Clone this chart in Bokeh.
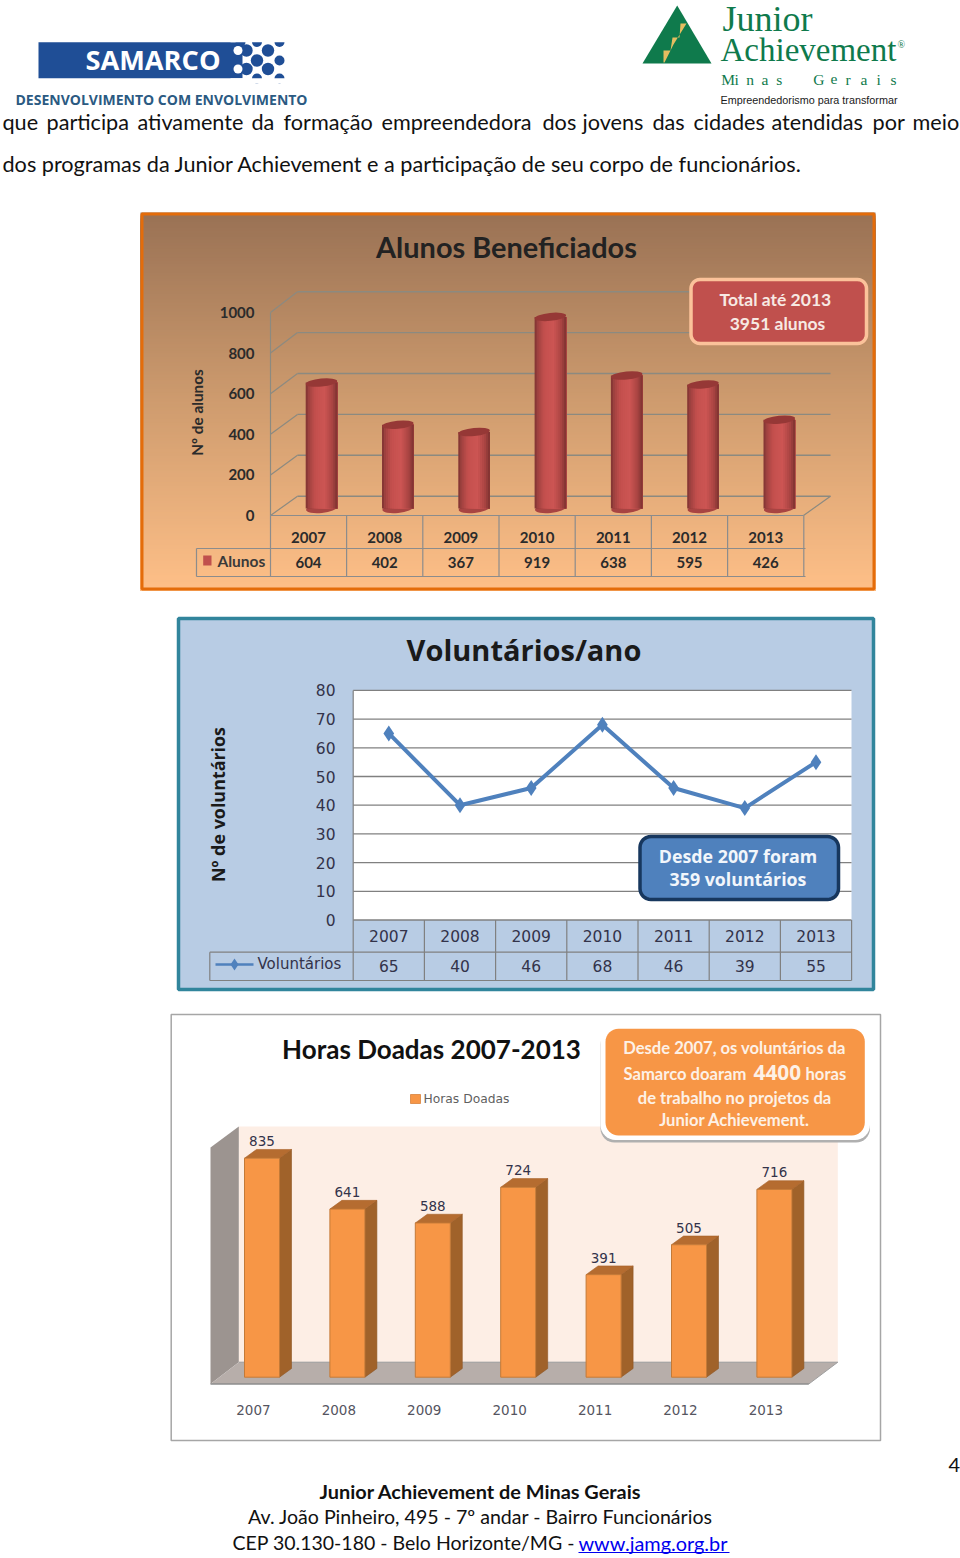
import math
from bokeh.plotting import figure
from bokeh.models import Range1d
from bokeh.core.properties import value
from bokeh.embed import file_html
from bokeh.resources import INLINE

# ---- data ----
years = ["2007", "2008", "2009", "2010", "2011", "2012", "2013"]
alunos = [604, 402, 367, 919, 638, 595, 426]
alunos_ticks = [0, 200, 400, 600, 800, 1000]
voluntarios = [65, 40, 46, 68, 46, 39, 55]
voluntarios_ticks = [0, 10, 20, 30, 40, 50, 60, 70, 80]
horas = [835, 641, 588, 724, 391, 505, 716]

line1_words = ["que", "participa", "ativamente", "da", "formação", "empreendedora", "dos",
               "jovens", "das", "cidades", "atendidas", "por", "meio"]
line1_x = [2, 46, 137, 251, 283, 381, 542, 582, 652, 693, 771, 872, 912]
line2 = "dos programas da Junior Achievement e a participação de seu corpo de funcionários."
minas_letters = ["M", "i", "n", "a", "s", "G", "e", "r", "a", "i", "s"]
minas_x = [720.7, 734, 745.7, 761, 775.7, 812.7, 830, 845, 860, 876, 890]

W, H = 960, 1558
BODY = "Lato"

p = figure(width=W, height=H, output_backend="svg", toolbar_location=None,
           x_range=Range1d(0, W), y_range=Range1d(H, 0),
           x_axis_location=None, y_axis_location=None, min_border=0,
           outline_line_color=None, background_fill_color="white", border_fill_color="white")
p.grid.visible = False


def yrange(name, y0, s):
    """value v sits at page pixel y0 - s*v"""
    p.extra_y_ranges[name] = Range1d((y0 - H) / s, y0 / s)


def xrange_(name, x0, dx):
    """index i sits at page pixel x0 + dx*i"""
    p.extra_x_ranges[name] = Range1d(-x0 / dx, (W - x0) / dx)


def T(x, y, s, size, color="#222222", font=BODY, bold=False, align="left", angle=0,
      baseline="middle", xr="default", yr="default", y_offset=0):
    xs = x if isinstance(x, list) else [x]
    ys = y if isinstance(y, list) else [y] * len(xs)
    if yr == "default":
        ys = [v - 1 for v in ys]
    ss = s if isinstance(s, list) else [s] * len(xs)
    p.text(x=xs, y=ys, text=ss, text_font=value(font), text_font_size=f"{size}px",
           text_font_style="bold" if bold else "normal", text_color=color, text_align=align,
           text_baseline=baseline, angle=angle, x_range_name=xr, y_range_name=yr, y_offset=y_offset)


def rrect(x0, y0, x1, y1, r, fill, line=None, lw=0):
    xs, ys = [], []
    for cx, cy, a0 in [(x1 - r, y0 + r, -90), (x1 - r, y1 - r, 0), (x0 + r, y1 - r, 90), (x0 + r, y0 + r, 180)]:
        for k in range(9):
            a = math.radians(a0 + k * 90 / 8)
            xs.append(cx + r * math.cos(a))
            ys.append(cy + r * math.sin(a))
    p.patch(xs, ys, fill_color=fill, line_color=line, line_width=lw)


def lerp_color(stops, f):
    for (f0, c0), (f1, c1) in zip(stops, stops[1:]):
        if f <= f1:
            t = (f - f0) / (f1 - f0)
            rgb = [int(int(c0[i:i + 2], 16) * (1 - t) + int(c1[i:i + 2], 16) * t) for i in (1, 3, 5)]
            return "#%02x%02x%02x" % tuple(rgb)
    return stops[-1][1]


def seg(x0, y0, x1, y1, color="#8c8c8c", w=1.0, xr="default", yr="default", alpha=1.0):
    p.segment(x0, y0, x1, y1, line_color=color, line_width=w, x_range_name=xr, y_range_name=yr, line_alpha=alpha)


# ---- header: Samarco logo ----
p.quad(left=[38], right=[242], top=[41.7], bottom=[77.7], fill_color="#1f4e96", line_color=None)
blue_dots = [(240, 41.5, 5), (256.5, 41.5, 5), (279, 41.5, 5),
             (246, 50, 6.2), (267.5, 50, 6.2),
             (256.5, 60, 6.2), (279, 60, 5),
             (246, 68.5, 6.2), (267.5, 68.5, 6.2),
             (256.5, 78, 5), (279, 78, 5)]
p.circle([d[0] for d in blue_dots], [d[1] for d in blue_dots], radius=[d[2] for d in blue_dots],
         fill_color="#1f4e96", line_color=None)
p.quad(left=[230], right=[290], top=[36], bottom=[41.7], fill_color="white", line_color=None)
p.quad(left=[230], right=[290], top=[77.7], bottom=[83], fill_color="white", line_color=None)
p.circle([237.5, 237.5], [50, 68.5], radius=[4.5, 4.5], fill_color="white", line_color=None)
T(85, 60, "SAMARCO", 27.2, "white", "Open Sans", True)
T(15, 100, "DESENVOLVIMENTO COM ENVOLVIMENTO", 14, "#2b5a82", "Open Sans", True)

# ---- header: Junior Achievement logo ----
GREEN = "#0f7a4c"
p.patch([676.7, 642, 711], [5, 63, 63], fill_color=GREEN, line_color=None)
p.patch([663, 663, 670, 672, 679, 680, 686, 673, 670, 664],
        [62, 50, 50, 37, 37, 23, 23, 44, 50, 62], fill_color="#e5bd60", line_color=None)
T(722, 19.5, "Junior", 36, GREEN, "Liberation Serif")
T(720, 50.5, "Achievement", 33, GREEN, "Liberation Serif")
T(897, 45, "®", 10, GREEN, "Liberation Serif")
T(minas_x, 79.5, minas_letters, 15.5, GREEN, "Liberation Serif")
T(720, 100, "Empreendedorismo para transformar", 10.8, "#1a1a1a", "Liberation Sans")

# ---- body text ----
T(line1_x, 122, line1_words, 21.65, "#111111", BODY)
T(2, 164.5, line2, 21.65, "#111111", BODY)

# ======== chart 1: Alunos Beneficiados ========
yrange("a_bar", 508, 0.2085)
yrange("a_back", 495.7, 0.2045)
yrange("a_front", 515, 0.203)
xrange_("a_x", 321, 76.3)
xrange_("a_tab", 308, 76.2)

bg_stops = [(0, "#9a7255"), (0.5, "#cf9c6f"), (1, "#ffc088")]
strips = list(range(212, 590, 3))
p.quad(left=[140] * len(strips), right=[875] * len(strips), top=strips, bottom=[590] * len(strips),
       fill_color=[lerp_color(bg_stops, (s - 212) / 378) for s in strips], line_color=None)
p.quad(left=[141.5], right=[873.5], top=[213.5], bottom=[588.5], fill_color=None, line_color="#e46c0a", line_width=3)

T(506, 247, "Alunos Beneficiados", 28.9, "#222222", BODY, True, "center")
T(196, 413, "Nº de alunos", 15.3, "#2b2b2b", BODY, True, "center", math.pi / 2)

# walls and grid
GR = "#8c8a80"
for v in alunos_ticks:
    seg(297, v, 830, v, GR, 1.4, yr="a_back")
seg(270, 312, 270, 515, GR, 1.2)
for v, yb in zip(alunos_ticks, [495.7, 454.8, 413.9, 373, 332.1, 291.2]):
    seg(270, 515 - v * 0.203, 297, yb, GR, 1.2)
seg(803, 515, 830, 495.7, GR, 1.2)
T([254] * len(alunos_ticks), alunos_ticks, [str(v) for v in alunos_ticks], 15, "#2b2b2b", BODY, True, "right", yr="a_front")
# cylinders: each strip runs from its own left edge to the bar's right edge, and the next one paints over it
idx = list(range(len(years)))
cyl_w = 31.6 / 76.3
n = 16
cyl_stops = [(0, "#7d3230"), (0.1, "#a04240"), (0.3, "#c4504e"), (0.6, "#cd5654"), (0.85, "#a84442"), (1, "#7d3230")]
p.ellipse(idx, [0] * 7, width=31, height=9, width_units="screen", height_units="screen", angle=0.1,
          fill_color="#a84442", line_color=None, x_range_name="a_x", y_range_name="a_bar")
for k in range(n):
    f = k / n
    w = cyl_w * (1 - f)
    p.vbar(x=[i + cyl_w / 2 - w / 2 for i in idx], width=w, top=alunos, bottom=0,
           fill_color=lerp_color(cyl_stops, (k + 0.5) / n), line_color=None, x_range_name="a_x", y_range_name="a_bar")
p.ellipse(idx, alunos, width=31.6, height=8, width_units="screen", height_units="screen", angle=0.1,
          fill_color="#963836", line_color=None, x_range_name="a_x", y_range_name="a_bar")

# data table
TG = "#8c8c8c"
seg(270, 515, 803, 515, TG, 1.2)
seg(196, 548, 805, 548, TG, 1.2)
seg(196, 576, 805, 576, TG, 1.2)
seg(196, 548, 196, 576, TG, 1.2)
seg(270, 515, 270, 576, TG, 1.2)
for i in range(1, 8):
    seg(i - 0.5, 515, i - 0.5, 576, TG, 1.2, xr="a_tab")
T(idx, 537.5, years, 15, "#2b2b2b", BODY, True, "center", xr="a_tab")
T(idx, 562.5, [str(v) for v in alunos], 15, "#2b2b2b", BODY, True, "center", xr="a_tab")
p.quad(left=[202.7], right=[211], top=[555], bottom=[565], fill_color="#c0504d", line_color=None)
T(217, 561, "Alunos", 15.5, "#3a3a3a", BODY, True)

rrect(690.5, 279, 866, 343, 9, "#c0504d", "#fbc29a", 3.5)
T(777, 300, "Total  até 2013", 17.5, "#f7e9e3", BODY, True, "center")
T(777, 324, "3951 alunos", 17.5, "#f7e9e3", BODY, True, "center")

# ======== chart 2: Voluntários/ano ========
yrange("v_y", 919.5, 2.87)
xrange_("v_x", 388.3, 71.2)

p.quad(left=[178], right=[873], top=[618], bottom=[989], fill_color="#b8cce4", line_color="#31859c", line_width=3.5)
T(523.5, 650, "Voluntários/ano", 29, "#1a1a1a", "Open Sans", True, "center")
T(217, 805, "Nº de voluntários", 17.9, "#1a1a1a", "Open Sans", True, "center", math.pi / 2)
p.quad(left=[352.7], right=[851], top=[690], bottom=[919.5], fill_color="white", line_color=None)
for v in voluntarios_ticks:
    seg(352.7, v, 851, v, "#808080", 1.3, yr="v_y")
seg(352.7, 690, 352.7, 980, "#808080", 1.2)
T([335] * 9, voluntarios_ticks, [str(v) for v in voluntarios_ticks], 15.5, "#33334a", "DejaVu Sans", False, "right", yr="v_y")
p.line(idx, voluntarios, line_color="#4f81bd", line_width=4, x_range_name="v_x", y_range_name="v_y")
p.scatter(idx, voluntarios, marker="diamond", size=16, fill_color="#4f81bd", line_color=None, x_range_name="v_x", y_range_name="v_y")

seg(352.7, 951.7, 851, 951.7, "#808080", 1.2)
seg(209.3, 951.7, 352.7, 951.7, "#808080", 1.2)
seg(209.3, 980, 851, 980, "#808080", 1.2)
seg(209.3, 951.7, 209.3, 980, "#808080", 1.2)
for i in range(1, 8):
    seg(i - 0.5, 919.5, i - 0.5, 980, "#808080", 1.2, xr="v_x")
T(idx, 936, years, 15.5, "#33334a", "DejaVu Sans", False, "center", xr="v_x")
T(idx, 966, [str(v) for v in voluntarios], 15.5, "#33334a", "DejaVu Sans", False, "center", xr="v_x")
seg(215, 964, 253, 964, "#4f81bd", 2.5)
p.scatter([234], [964], marker="diamond", size=12, fill_color="#4f81bd", line_color=None)
T(257, 964, "Voluntários", 15, "#33334a", "DejaVu Sans")

rrect(639.5, 836, 838, 899, 11, "#4f81bd", "#17375e", 3.5)
T(737.5, 856, "Desde 2007 foram", 17.8, "#f2f6fb", "Open Sans", True, "center")
T(737.5, 879, "359 voluntários", 17.8, "#f2f6fb", "Open Sans", True, "center")

# ======== chart 3: Horas Doadas ========
yrange("h_y", 1376.7, 0.2623)
xrange_("h_x", 261.5, 85.4)

p.quad(left=[170.7], right=[880], top=[1014], bottom=[1440], fill_color="white", line_color="#a6a6a6", line_width=1.5)
T(431, 1049, "Horas Doadas 2007-2013", 26, "#111111", BODY, True, "center")
p.quad(left=[410], right=[420], top=[1094], bottom=[1103], fill_color="#f79646", line_color="#d8823c", line_width=0.8)
T(423, 1099, "Horas Doadas", 12.3, "#5f5f5f", "DejaVu Sans")

p.quad(left=[238.3], right=[837.3], top=[1126], bottom=[1361.7], fill_color="#fdeee5", line_color=None)
p.patch([238.3, 238.3, 210, 210], [1126, 1361.7, 1383.5, 1147], fill_color="#9c9490", line_color=None)
p.patch([238.3, 837.3, 808.3, 210], [1361.7, 1361.7, 1383.5, 1383.5], fill_color="#b7aeaa", line_color=None)
seg(210, 1383.5, 808.3, 1383.5, "#8c8c8c", 1.6)
seg(238.3, 1361.7, 837.3, 1361.7, "#9a9a9a", 1)
seg(808.3, 1383.5, 837.3, 1361.7, "#a0a0a0", 1)

bar_w = 35 / 85.4
ox, oy = 12 / 85.4, 8.7 / 0.2623
p.patches([[i + bar_w / 2, i + bar_w / 2, i + bar_w / 2 + ox, i + bar_w / 2 + ox] for i in idx],
          [[0, v, v + oy, oy] for v in horas],
          fill_color="#a0622a", line_color="#8f5624", line_width=0.6, x_range_name="h_x", y_range_name="h_y")
p.patches([[i - bar_w / 2, i - bar_w / 2 + ox, i + bar_w / 2 + ox, i + bar_w / 2] for i in idx],
          [[v, v + oy, v + oy, v] for v in horas],
          fill_color="#b56c30", line_color="#a86228", line_width=0.6, x_range_name="h_x", y_range_name="h_y")
p.vbar(x=idx, width=bar_w, top=horas, bottom=0, fill_color="#f79646", line_color="#c47a37", line_width=1,
       x_range_name="h_x", y_range_name="h_y")
T(idx, horas, [str(v) for v in horas], 13.5, "#33334a", "DejaVu Sans", False, "center", xr="h_x", yr="h_y", y_offset=-17)
T([i - 0.1 for i in idx], 1410, years, 13.5, "#55555f", "DejaVu Sans", False, "center", xr="h_x")

rrect(600, 1030, 869.5, 1142, 14, "#b0b0b0")
rrect(600, 1025, 869.5, 1139.5, 15, "white")
rrect(605, 1028.3, 864.3, 1135, 13, "#f79646")
CW = "#fdf1e6"
T(734, 1048, "Desde 2007, os voluntários da", 16.6, CW, BODY, True, "center")
T(623, 1074, "Samarco doaram", 16.6, CW, BODY, True)
T(753, 1073, "4400", 20.8, CW, "Open Sans", True)
T(805, 1074, "horas", 16.6, CW, BODY, True)
T(734, 1098, "de trabalho no projetos da", 16.6, CW, BODY, True, "center")
T(734, 1120, "Junior Achievement.", 16.6, CW, BODY, True, "center")

# ---- footer ----
T(480, 1491, "Junior Achievement de Minas Gerais", 19.9, "#111111", BODY, True, "center")
T(480, 1517, "Av. João Pinheiro, 495 - 7º andar - Bairro Funcionários", 19.6, "#111111", BODY, False, "center")
T(232, 1543, "CEP 30.130-180 - Belo Horizonte/MG  -", 19.5, "#111111", BODY)
T(578, 1543, "www.jamg.org.br", 19.9, "#0000ee", BODY)
seg(578, 1552, 729, 1552, "#0000ee", 1.2)
T(948, 1465, "4", 20, "#111111", BODY)

open("out.html", "w").write(file_html(p, INLINE))
